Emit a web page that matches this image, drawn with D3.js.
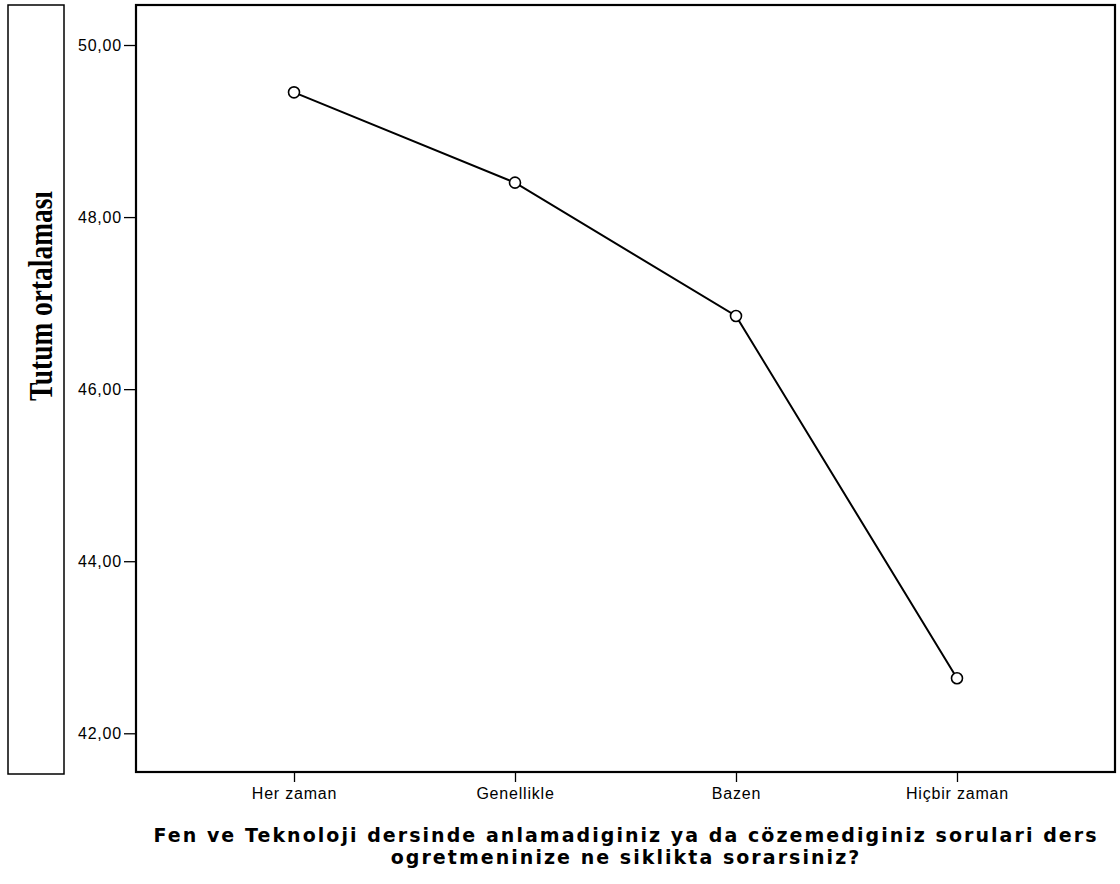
<!DOCTYPE html>
<html>
<head>
<meta charset="utf-8">
<script src="https://cdn.jsdelivr.net/npm/d3@7"></script>
<style>
  html, body { margin: 0; padding: 0; background: #fff; }
  svg { display: block; }
</style>
</head>
<body>
<div id="chart"></div>
<script>
//data
const categories = ["Her zaman", "Genellikle", "Bazen", "Hiçbir zaman"];
const means = [49.45, 48.40, 46.85, 42.64];
const yTicks = [42, 44, 46, 48, 50];
const yLabel = "Tutum ortalaması";
const xTitle = [
  "Fen ve Teknoloji dersinde anlamadiginiz ya da cözemediginiz sorulari ders",
  "ogretmeninize ne siklikta sorarsiniz?"
];

const data = categories.map((c, i) => ({ cat: c, value: means[i] }));

//size
const width = 1120, height = 884;
const plot = { left: 136, top: 5, right: 1115, bottom: 772 };
const sans = "'Liberation Sans', Arial, sans-serif";

const svg = d3.select("#chart").append("svg")
  .attr("width", width)
  .attr("height", height);

//scale
const xScale = d3.scalePoint()
  .domain(categories)
  .range([plot.left, plot.right])
  .padding(0.715);

const yScale = d3.scaleLinear()
  .domain([41.55, 50.465])
  .range([plot.bottom, plot.top]);

//y label box
svg.append("rect")
  .attr("x", 8).attr("y", 5)
  .attr("width", 56).attr("height", 769)
  .attr("fill", "none")
  .attr("stroke", "#000")
  .attr("stroke-width", 1.5);

svg.append("text")
  .attr("transform", `translate(52,${296}) rotate(-90)`)
  .attr("text-anchor", "middle")
  .attr("font-family", "'Liberation Serif', 'Times New Roman', serif")
  .attr("font-weight", "bold")
  .attr("font-size", 33)
  .attr("textLength", 210)
  .attr("lengthAdjust", "spacingAndGlyphs")
  .text(yLabel);

//frame
svg.append("rect")
  .attr("x", plot.left).attr("y", plot.top)
  .attr("width", plot.right - plot.left)
  .attr("height", plot.bottom - plot.top)
  .attr("fill", "none")
  .attr("stroke", "#000")
  .attr("stroke-width", 2.2);

//y-axis
const yAxis = svg.append("g")
  .attr("transform", `translate(${plot.left},0)`)
  .call(d3.axisLeft(yScale)
    .tickValues(yTicks)
    .tickSize(12)
    .tickPadding(2)
    .tickFormat(d => d3.format(".2f")(d).replace(".", ",")));

//x-axis
const xAxis = svg.append("g")
  .attr("transform", `translate(0,${plot.bottom})`)
  .call(d3.axisBottom(xScale).tickSize(10).tickPadding(6));

[yAxis, xAxis].forEach(g => {
  g.select(".domain").remove();
  g.selectAll("line").attr("stroke", "#000").attr("stroke-width", 1.3);
  g.selectAll("text")
    .attr("font-family", sans)
    .attr("font-size", 16)
    .attr("letter-spacing", 0.8)
    .attr("fill", "#000");
});

//line
svg.append("path")
  .datum(data)
  .attr("fill", "none")
  .attr("stroke", "#000")
  .attr("stroke-width", 2)
  .attr("d", d3.line()
    .x(d => xScale(d.cat))
    .y(d => yScale(d.value)));

//markers
svg.selectAll("circle.pt")
  .data(data)
  .join("circle")
  .attr("class", "pt")
  .attr("cx", d => xScale(d.cat))
  .attr("cy", d => yScale(d.value))
  .attr("r", 5.5)
  .attr("fill", "#fff")
  .attr("stroke", "#000")
  .attr("stroke-width", 1.6);

//x title
const title = svg.append("g")
  .attr("font-family", "'DejaVu Sans', Verdana, sans-serif")
  .attr("font-weight", "bold")
  .attr("font-size", 19)
  .attr("text-anchor", "middle");

const titleLines = title.selectAll("text")
  .data(xTitle)
  .join("text")
  .attr("x", 626)
  .attr("y", (d, i) => 842 + i * 22)
  .text(d => d);

// spread letters so the first line spans like the reference
const firstLen = titleLines.nodes()[0].getComputedTextLength();
const spacing = Math.max(0, (945 - firstLen) / xTitle[0].length);
titleLines.attr("letter-spacing", spacing);
</script>
</body>
</html>
